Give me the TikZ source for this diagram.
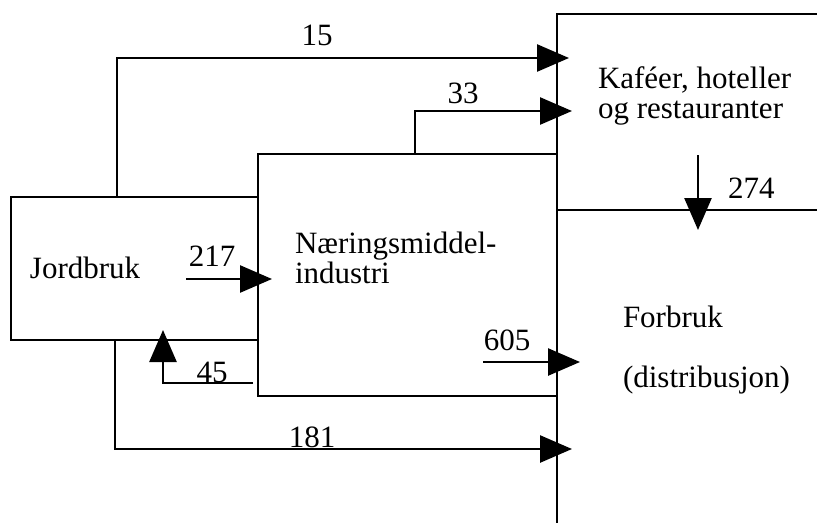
\documentclass[tikz,border=0pt]{standalone}
\usepackage{fontspec}
\setmainfont{Liberation Serif}
\usetikzlibrary{arrows.meta}
\begin{document}
\begin{tikzpicture}[x=1pt,y=-1pt,
  every node/.style={font=\fontsize{31}{31}\selectfont, inner sep=0pt, outer sep=0pt},
  boxline/.style={line width=2.6pt},
  areabox/.style={draw, line width=2.6pt, anchor=north west},
  flow/.style={line width=2.6pt, -{Triangle[length=32pt,width=27pt]}},
  txt/.style={anchor=base west},
  num/.style={anchor=base}]
\useasboundingbox (0,0) rectangle (817,523);
% boxes
\node[areabox, minimum width=247pt, minimum height=143pt] (jord) at (11,197) {};
\node[areabox, minimum width=299pt, minimum height=242pt] (naer) at (258,154) {};
\coordinate (kafNE) at (817,14);
\coordinate (kafNW) at (557,14);
\coordinate (forbS) at (557,523);
\coordinate (divW) at (557,210);
\coordinate (divE) at (817,210);
\draw[boxline] (kafNE) -- (kafNW) -- (forbS);
\draw[boxline] (divW) -- (divE);
% texts
\node[txt] (tjord) at (30,278) {Jordbruk};
\node[txt] (tnaer1) at (295,253) {Næringsmiddel-};
\node[txt] (tnaer2) at (295,283) {industri};
\node[txt] (tkaf1) at (598,88) {Kaféer, hoteller};
\node[txt] (tkaf2) at (598,118) {og restauranter};
\node[txt] (tforb1) at (623,327) {Forbruk};
\node[txt] (tforb2) at (623,387) {(distribusjon)};
% arrow end points
\coordinate (e15) at (569,58);
\coordinate (e33) at (572,111);
\coordinate (s274) at (698,155);
\coordinate (e274) at (698,230);
\coordinate (s217) at (186,279);
\coordinate (e217) at (272,279);
\coordinate (s45) at (253,383);
\coordinate (e45) at (163,330);
\coordinate (e181) at (572,449);
\coordinate (s605) at (483,362);
\coordinate (e605) at (580,362);
% flows
\draw[flow] ([xshift=106pt]jord.north west) |- (e15);
\draw[flow] ([xshift=157pt]naer.north west) |- (e33);
\draw[flow] (s274) -- (e274);
\draw[flow] (s217) -- (e217);
\draw[flow] (s45) -| (e45);
\draw[flow] ([xshift=104pt]jord.south west) |- (e181);
\draw[flow] (s605) -- (e605);
% numbers
\node[num] (n15) at (317,45) {15};
\node[num] (n33) at (463,103) {33};
\node[txt] (n274) at (728,198) {274};
\node[num] (n217) at (212,266) {217};
\node[num] (n45) at (212,382) {45};
\node[num] (n181) at (312,447) {181};
\node[num] (n605) at (507,350) {605};
\end{tikzpicture}
\end{document}
